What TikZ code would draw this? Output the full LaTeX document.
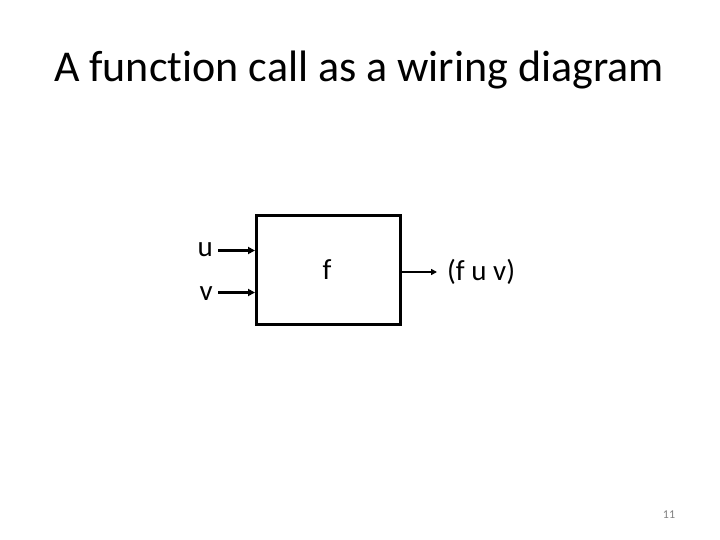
\documentclass[tikz,border=0pt]{standalone}
\usepackage{fontspec}
\setmainfont{Carlito}[Ligatures=NoCommon]
\usetikzlibrary{arrows.meta}
\begin{document}
\begin{tikzpicture}[x=1pt,y=-1pt,
  wire/.style={line width=2.2pt,-{Triangle[length=7pt,width=7pt]}},
  lbl/.style={font=\fontsize{29}{34}\selectfont,inner sep=0pt},
  fbox/.style={draw,line width=3pt,minimum width=144pt,minimum height=108pt,inner sep=0pt}]
\useasboundingbox (0,0) rectangle (720,540);
\node[font=\fontsize{44}{52}\selectfont,inner sep=0pt] (title) at (359,70) {A function call as a wiring diagram};
\node[fbox] (f) at (328.5,270) {};
\node[lbl] (fl) at (327,270) {f};
\node[lbl,anchor=east] (u) at (213,250) {u};
\node[lbl,anchor=east] (v) at (213,294) {v};
\coordinate (ue) at (f.west |- 0,250.5);
\coordinate (ve) at (f.west |- 0,292.5);
\draw[wire] (u.east) ++(5,0.5) coordinate (us) -- (ue);
\draw[wire] (v.east) ++(5,-1.5) coordinate (vs) -- (ve);
\node[lbl,anchor=west] (out) at (447,272) {(f u v)};
\coordinate (os) at (f.east |- 0,272);
\coordinate (oe) at (437,272);
\draw[line width=1.5pt,-{Triangle[length=6pt,width=6pt]}] (os) -- (oe);
\node[font=\fontsize{12}{14}\selectfont,text=gray,inner sep=0pt] (pg) at (669,515) {11};
\end{tikzpicture}
\end{document}
